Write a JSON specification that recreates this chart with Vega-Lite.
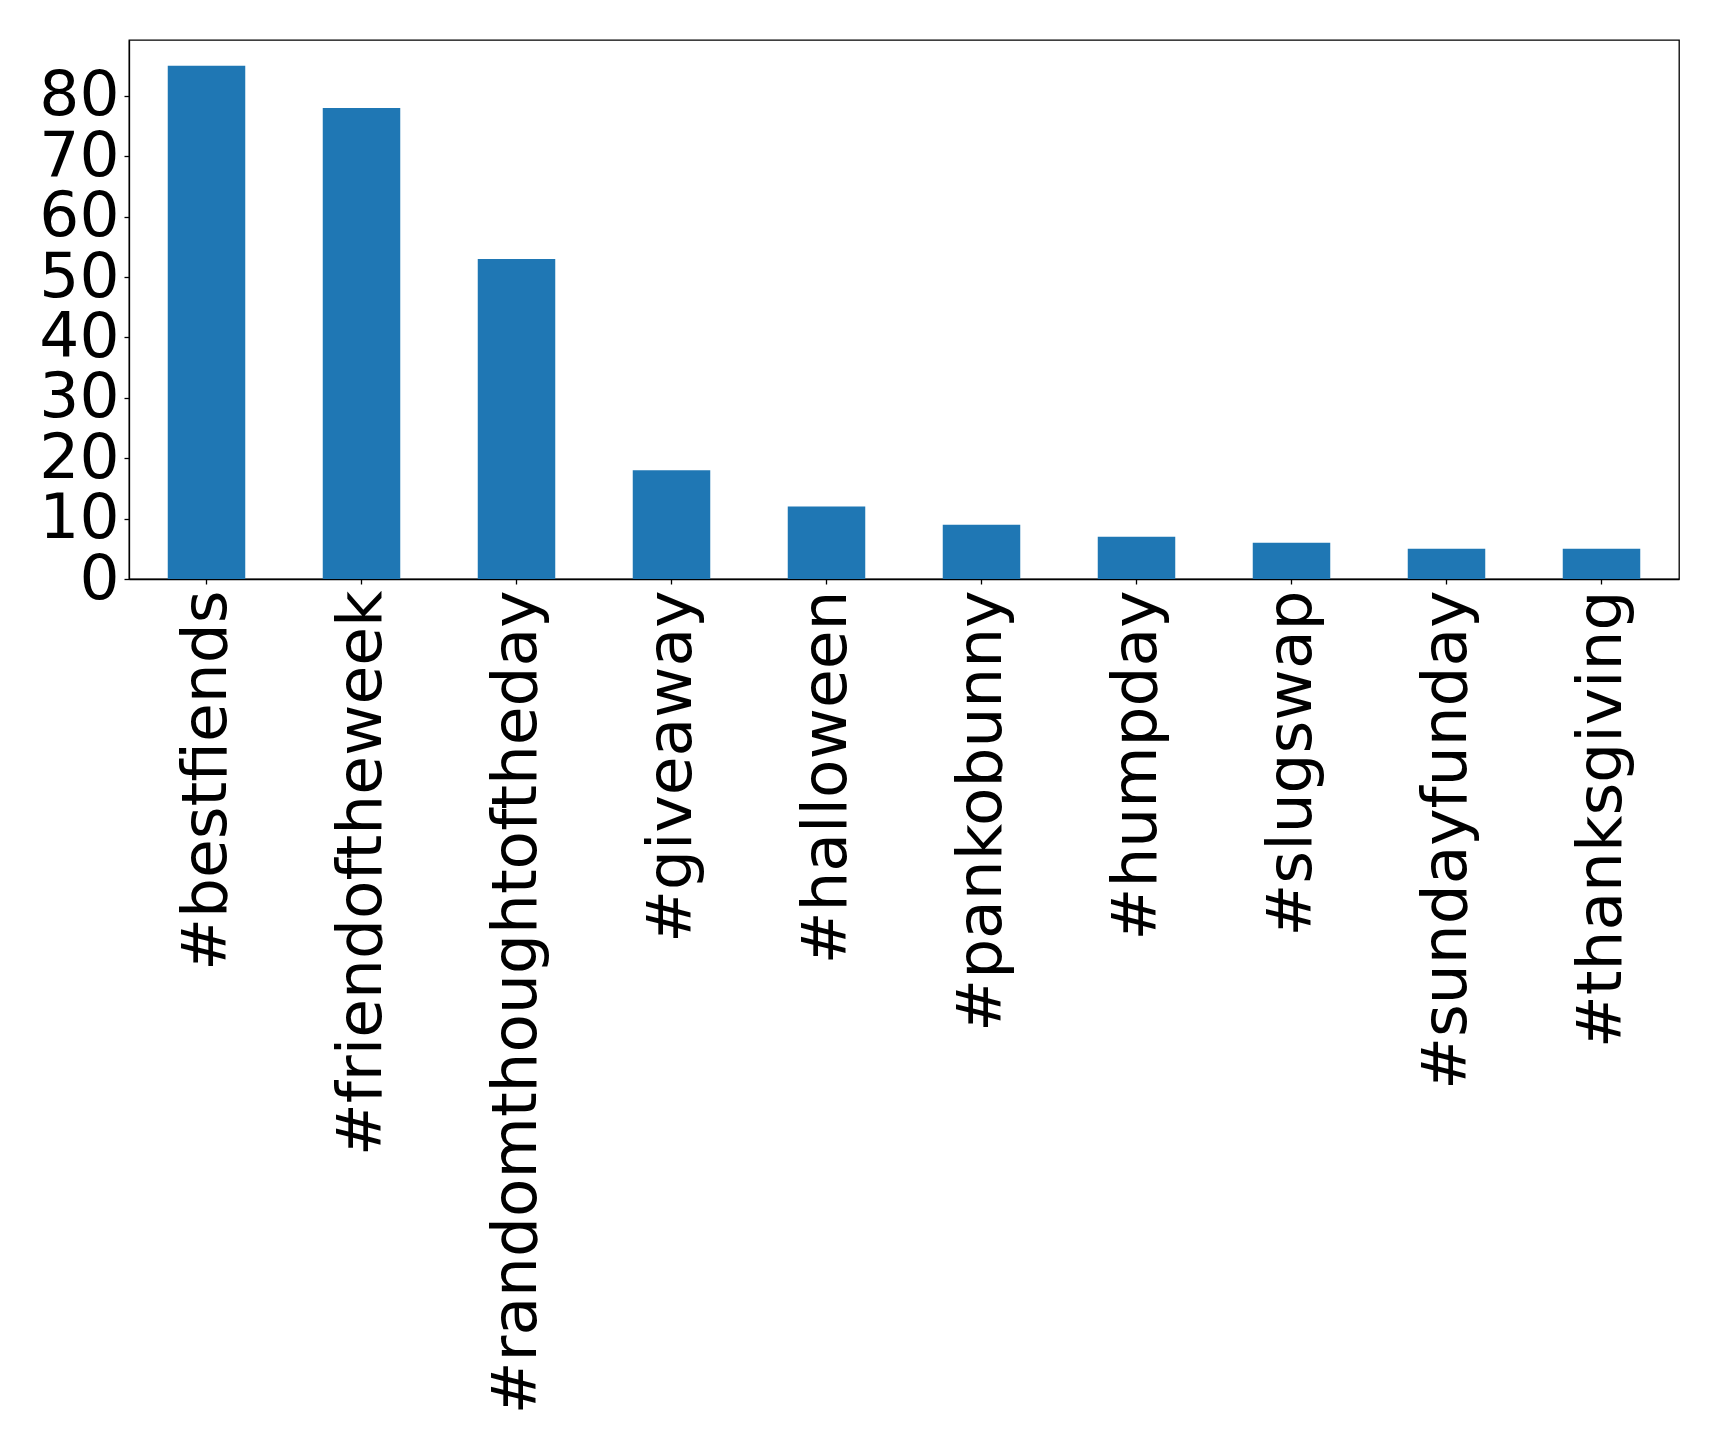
{
  "$schema": "https://vega.github.io/schema/vega-lite/v6.json",
  "width": 1550,
  "height": 539,
  "autosize": {"type": "none"},
  "padding": {"left": 129, "top": 40, "right": 40, "bottom": 866},
  "background": "white",
  "config": {
    "font": "DejaVu Sans",
    "view": {"stroke": "black", "strokeWidth": 1.3},
    "axis": {"grid": false, "domainColor": "black", "tickColor": "black", "labelColor": "black", "domainWidth": 1.3, "tickWidth": 1.3}
  },
  "data": {
    "values": [
      {"hashtag": "#bestfiends", "count": 85},
      {"hashtag": "#friendoftheweek", "count": 78},
      {"hashtag": "#randomthoughtoftheday", "count": 53},
      {"hashtag": "#giveaway", "count": 18},
      {"hashtag": "#halloween", "count": 12},
      {"hashtag": "#pankobunny", "count": 9},
      {"hashtag": "#humpday", "count": 7},
      {"hashtag": "#slugswap", "count": 6},
      {"hashtag": "#sundayfunday", "count": 5},
      {"hashtag": "#thanksgiving", "count": 5}
    ]
  },
  "mark": {"type": "bar", "color": "#1f77b4"},
  "encoding": {
    "x": {
      "field": "hashtag",
      "type": "nominal",
      "sort": null,
      "scale": {"paddingInner": 0.5, "paddingOuter": 0.25},
      "axis": {"title": null, "labelAngle": -90, "labelFontSize": 63, "tickSize": 5, "labelPadding": 6, "labelLimit": 0, "labelOverlap": false}
    },
    "y": {
      "field": "count",
      "type": "quantitative",
      "scale": {"domain": [0, 89.25], "nice": false},
      "axis": {"title": null, "values": [0, 10, 20, 30, 40, 50, 60, 70, 80], "labelFontSize": 63, "tickSize": 5, "labelPadding": 5, "labelOverlap": false, "labelFlush": false}
    }
  }
}
